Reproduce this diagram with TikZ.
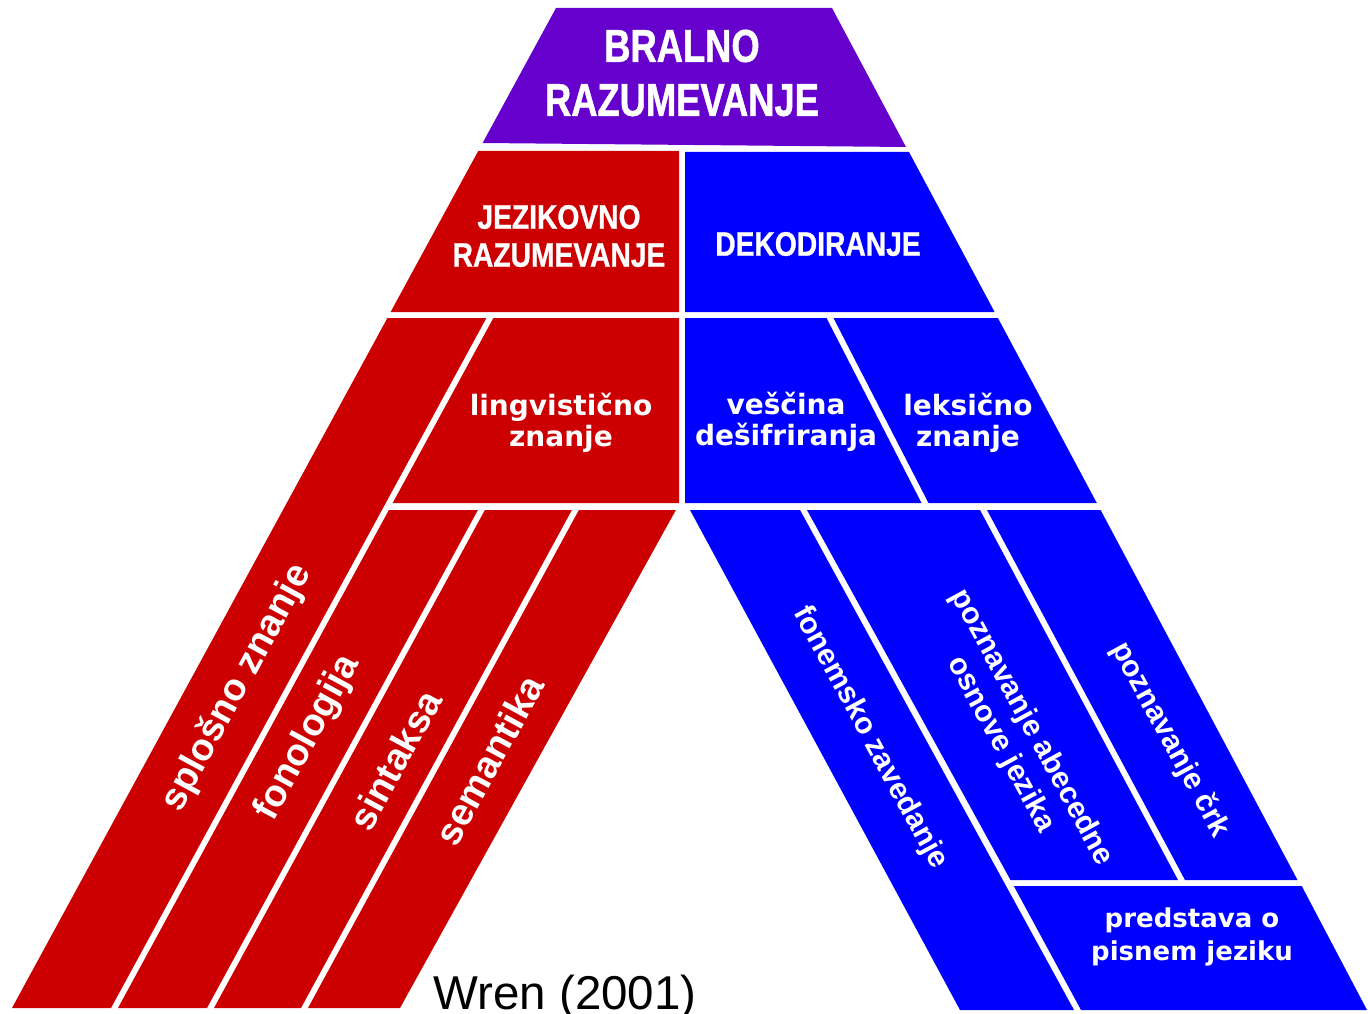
\documentclass[tikz,border=0pt]{standalone}
\usepackage{fontspec}
\setmainfont{Liberation Sans}
\newfontfamily\titlefont{Liberation Sans}[FakeStretch=0.79,FakeBold=1]
\newfontfamily\rowfont{Liberation Sans}[FakeStretch=0.83,FakeBold=0.8]
\newfontfamily\labfont{DejaVu Sans}
\definecolor{purp}{RGB}{102,0,204}
\definecolor{redc}{RGB}{204,0,0}
\definecolor{bluec}{RGB}{0,0,255}
\begin{document}
\begin{tikzpicture}[x=1pt,y=-1pt,
  lbl/.style={text=white,align=center,inner sep=0pt},
  titlelbl/.style={lbl,font=\titlefont\bfseries\fontsize{46}{54}\selectfont},
  rowlbl/.style={lbl,font=\rowfont\bfseries\fontsize{34}{38}\selectfont},
  sublbl/.style={lbl,font=\labfont\bfseries\fontsize{28}{31}\selectfont},
  leftlbl/.style={lbl,font=\bfseries\fontsize{38}{42}\selectfont,rotate=61.5},
  rightlbl/.style={lbl,font=\bfseries\fontsize{30}{35}\selectfont,rotate=-61.5}]
\useasboundingbox (0,0) rectangle (1368,1014);

% top
\fill[purp] (556,8) -- (832,8) -- (906,147) -- (482.6,143) -- cycle;
% row 2
\fill[redc] (478.2,151) -- (679,151) -- (679,312) -- (390.6,312) -- cycle;
\fill[bluec] (685,152) -- (909,152) -- (994.6,312) -- (685,312) -- cycle;
% row 3 left
\fill[redc] (387.4,318) -- (486.4,318) -- (111,1008) -- (12,1008) -- cycle;
\fill[redc] (493.4,318) -- (679,318) -- (679,503) -- (392.7,503) -- cycle;
% row 4 left
\fill[redc] (388.9,510) -- (477.9,510) -- (207,1008) -- (118,1008) -- cycle;
\fill[redc] (484.9,510) -- (571.9,510) -- (301,1008) -- (214,1008) -- cycle;
\fill[redc] (578.9,510) -- (675.9,510) -- (400,1008) -- (308,1008) -- cycle;
% row 3 right
\fill[bluec] (685,318) -- (826.5,318) -- (921.5,503) -- (685,503) -- cycle;
\fill[bluec] (833.5,318) -- (997.9,318) -- (1096.8,503) -- (928.5,503) -- cycle;
% row 4 right
\fill[bluec] (690,510) -- (800,510) -- (1074,1010) -- (960,1010) -- cycle;
\fill[bluec] (807,510) -- (980,510) -- (1178,880) -- (1010.5,880) -- cycle;
\fill[bluec] (987,510) -- (1100.6,510) -- (1297.5,880) -- (1185,880) -- cycle;
\fill[bluec] (1013.8,886) -- (1301.7,886) -- (1367,1010) -- (1081,1010) -- cycle;

% labels
\node[titlelbl] (bralno) at (682,73) {BRALNO\\RAZUMEVANJE};
\node[rowlbl] (jezik) at (559,236) {JEZIKOVNO\\RAZUMEVANJE};
\node[rowlbl] (dekod) at (818,244) {DEKODIRANJE};
\node[sublbl] (ling) at (561,423) {lingvistično\\znanje};
\node[sublbl] (vesc) at (786,422) {veščina\\dešifriranja};
\node[sublbl] (leks) at (968,423) {leksično\\znanje};
\node[sublbl,font=\labfont\bfseries\fontsize{26}{33}\selectfont] (pred) at (1192,937) {predstava o\\pisnem jeziku};
\node[leftlbl] (splos) at (237,688) {splošno znanje};
\node[leftlbl] (fono) at (308,738) {fonologija};
\node[leftlbl] (sint) at (395,760) {sintaksa};
\node[leftlbl] (sem) at (489,760) {semantika};
\node[rightlbl] (fonem) at (870,738) {fonemsko zavedanje};
\node[rightlbl] (abec) at (1016,736) {poznavanje abecedne\\osnove jezika};
\node[rightlbl] (crk) at (1170,740) {poznavanje črk};
\node[anchor=base,inner sep=0pt,font=\fontsize{47.5}{52}\selectfont] (wren) at (565,1009) {Wren (2001)};
\end{tikzpicture}
\end{document}
